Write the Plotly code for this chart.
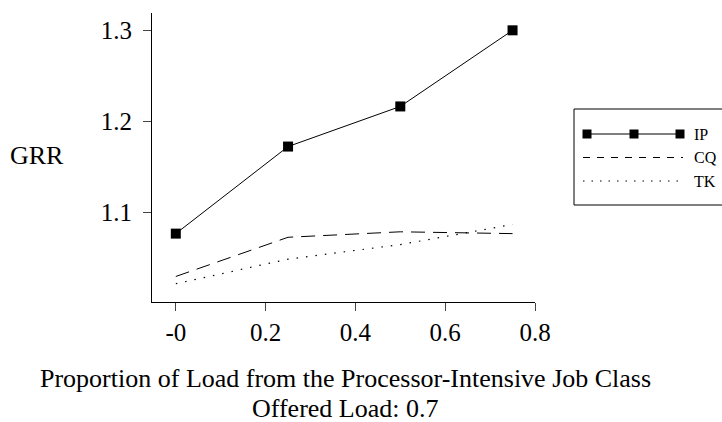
import plotly.graph_objects as go

# ---- data ----
x_vals = [0.0, 0.25, 0.5, 0.75]
ip_vals = [1.077, 1.1725, 1.2165, 1.300]
cq_vals = [1.030, 1.073, 1.079, 1.077]
tk_vals = [1.022, 1.049, 1.065, 1.087]
series_names = ["IP", "CQ", "TK"]
x_tickvals = [0.0, 0.2, 0.4, 0.6, 0.8]
x_ticktext = ["-0", "0.2", "0.4", "0.6", "0.8"]
y_tickvals = [1.1, 1.2, 1.3]
y_ticktext = ["1.1", "1.2", "1.3"]
y_label = "GRR"
x_title = "Proportion of Load from the Processor-Intensive Job Class"
x_subtitle = "Offered Load: 0.7"

FONT = "Liberation Serif, Times New Roman, serif"
W, H = 722, 422
L, R, T, B = 152, 535, 13, 302  # plot area in pixels


def px(xp):
    return (xp - L) / (R - L)


def py(yp):
    return (B - yp) / (B - T)


fig = go.Figure()
fig.add_trace(go.Scatter(x=x_vals, y=ip_vals, name=series_names[0], mode="lines+markers",
                         line=dict(color="black", width=1),
                         marker=dict(symbol="square", size=10, color="black")))
fig.add_trace(go.Scatter(x=x_vals, y=cq_vals, name=series_names[1], mode="lines",
                         line=dict(color="black", width=1, dash="14px,8px")))
fig.add_trace(go.Scatter(x=x_vals, y=tk_vals, name=series_names[2], mode="lines",
                         line=dict(color="black", width=1.2, dash="1.5px,8px")))

shapes = []
annotations = []

# custom legend box
shapes.append(dict(type="rect", xref="paper", yref="paper",
                   x0=px(574), x1=px(730), y0=py(205), y1=py(109),
                   line=dict(color="black", width=1), fillcolor="white"))
rows = [134, 157.5, 181]
lx0, lx1 = 583, 683
# IP sample
shapes.append(dict(type="line", xref="paper", yref="paper", x0=px(lx0), x1=px(lx1),
                   y0=py(rows[0]), y1=py(rows[0]), line=dict(color="black", width=1)))
for cx in [587, 634, 680]:
    shapes.append(dict(type="rect", xref="paper", yref="paper",
                       x0=px(cx - 4.5), x1=px(cx + 4.5), y0=py(rows[0] + 4.5), y1=py(rows[0] - 4.5),
                       line=dict(width=0), fillcolor="black"))
shapes.append(dict(type="line", xref="paper", yref="paper", x0=px(lx0), x1=px(lx1),
                   y0=py(rows[1]), y1=py(rows[1]), line=dict(color="black", width=1, dash="7px,7px")))
shapes.append(dict(type="line", xref="paper", yref="paper", x0=px(lx0), x1=px(lx1),
                   y0=py(rows[2]), y1=py(rows[2]), line=dict(color="black", width=1.2, dash="1.5px,7px")))
for name, ry in zip(series_names, rows):
    annotations.append(dict(text=name, xref="paper", yref="paper", x=px(692), y=py(ry),
                            xanchor="left", yanchor="middle", showarrow=False,
                            font=dict(family=FONT, size=16, color="black")))

annotations.append(dict(text=y_label, xref="paper", yref="paper", x=px(36.5), y=py(155),
                        xanchor="center", yanchor="middle", showarrow=False,
                        font=dict(family=FONT, size=26, color="black")))
annotations.append(dict(text=x_title, xref="paper", yref="paper", x=px(345), y=py(378),
                        xanchor="center", yanchor="middle", showarrow=False,
                        font=dict(family=FONT, size=26, color="black")))
annotations.append(dict(text=x_subtitle, xref="paper", yref="paper", x=px(345), y=py(408),
                        xanchor="center", yanchor="middle", showarrow=False,
                        font=dict(family=FONT, size=26, color="black")))

fig.update_layout(
    width=W, height=H,
    margin=dict(l=L, r=W - R, t=T, b=H - B, pad=0),
    paper_bgcolor="white", plot_bgcolor="white",
    showlegend=False,
    font=dict(family=FONT, size=25, color="black"),
    shapes=shapes, annotations=annotations,
    xaxis=dict(range=[-0.053, 0.8], tickvals=x_tickvals, ticktext=x_ticktext,
               showgrid=False, zeroline=False, showline=True, linecolor="black", linewidth=1,
               ticks="outside", ticklen=8, tickcolor="#444", tickwidth=1,
               tickfont=dict(family=FONT, size=25, color="black")),
    yaxis=dict(range=[1.002, 1.319], tickvals=y_tickvals, ticktext=y_ticktext,
               showgrid=False, zeroline=False, showline=True, linecolor="black", linewidth=1,
               ticks="outside", ticklen=8, tickcolor="#444", tickwidth=1, ticklabelstandoff=6,
               tickfont=dict(family=FONT, size=25, color="black")),
)

fig.write_html("out.html")
